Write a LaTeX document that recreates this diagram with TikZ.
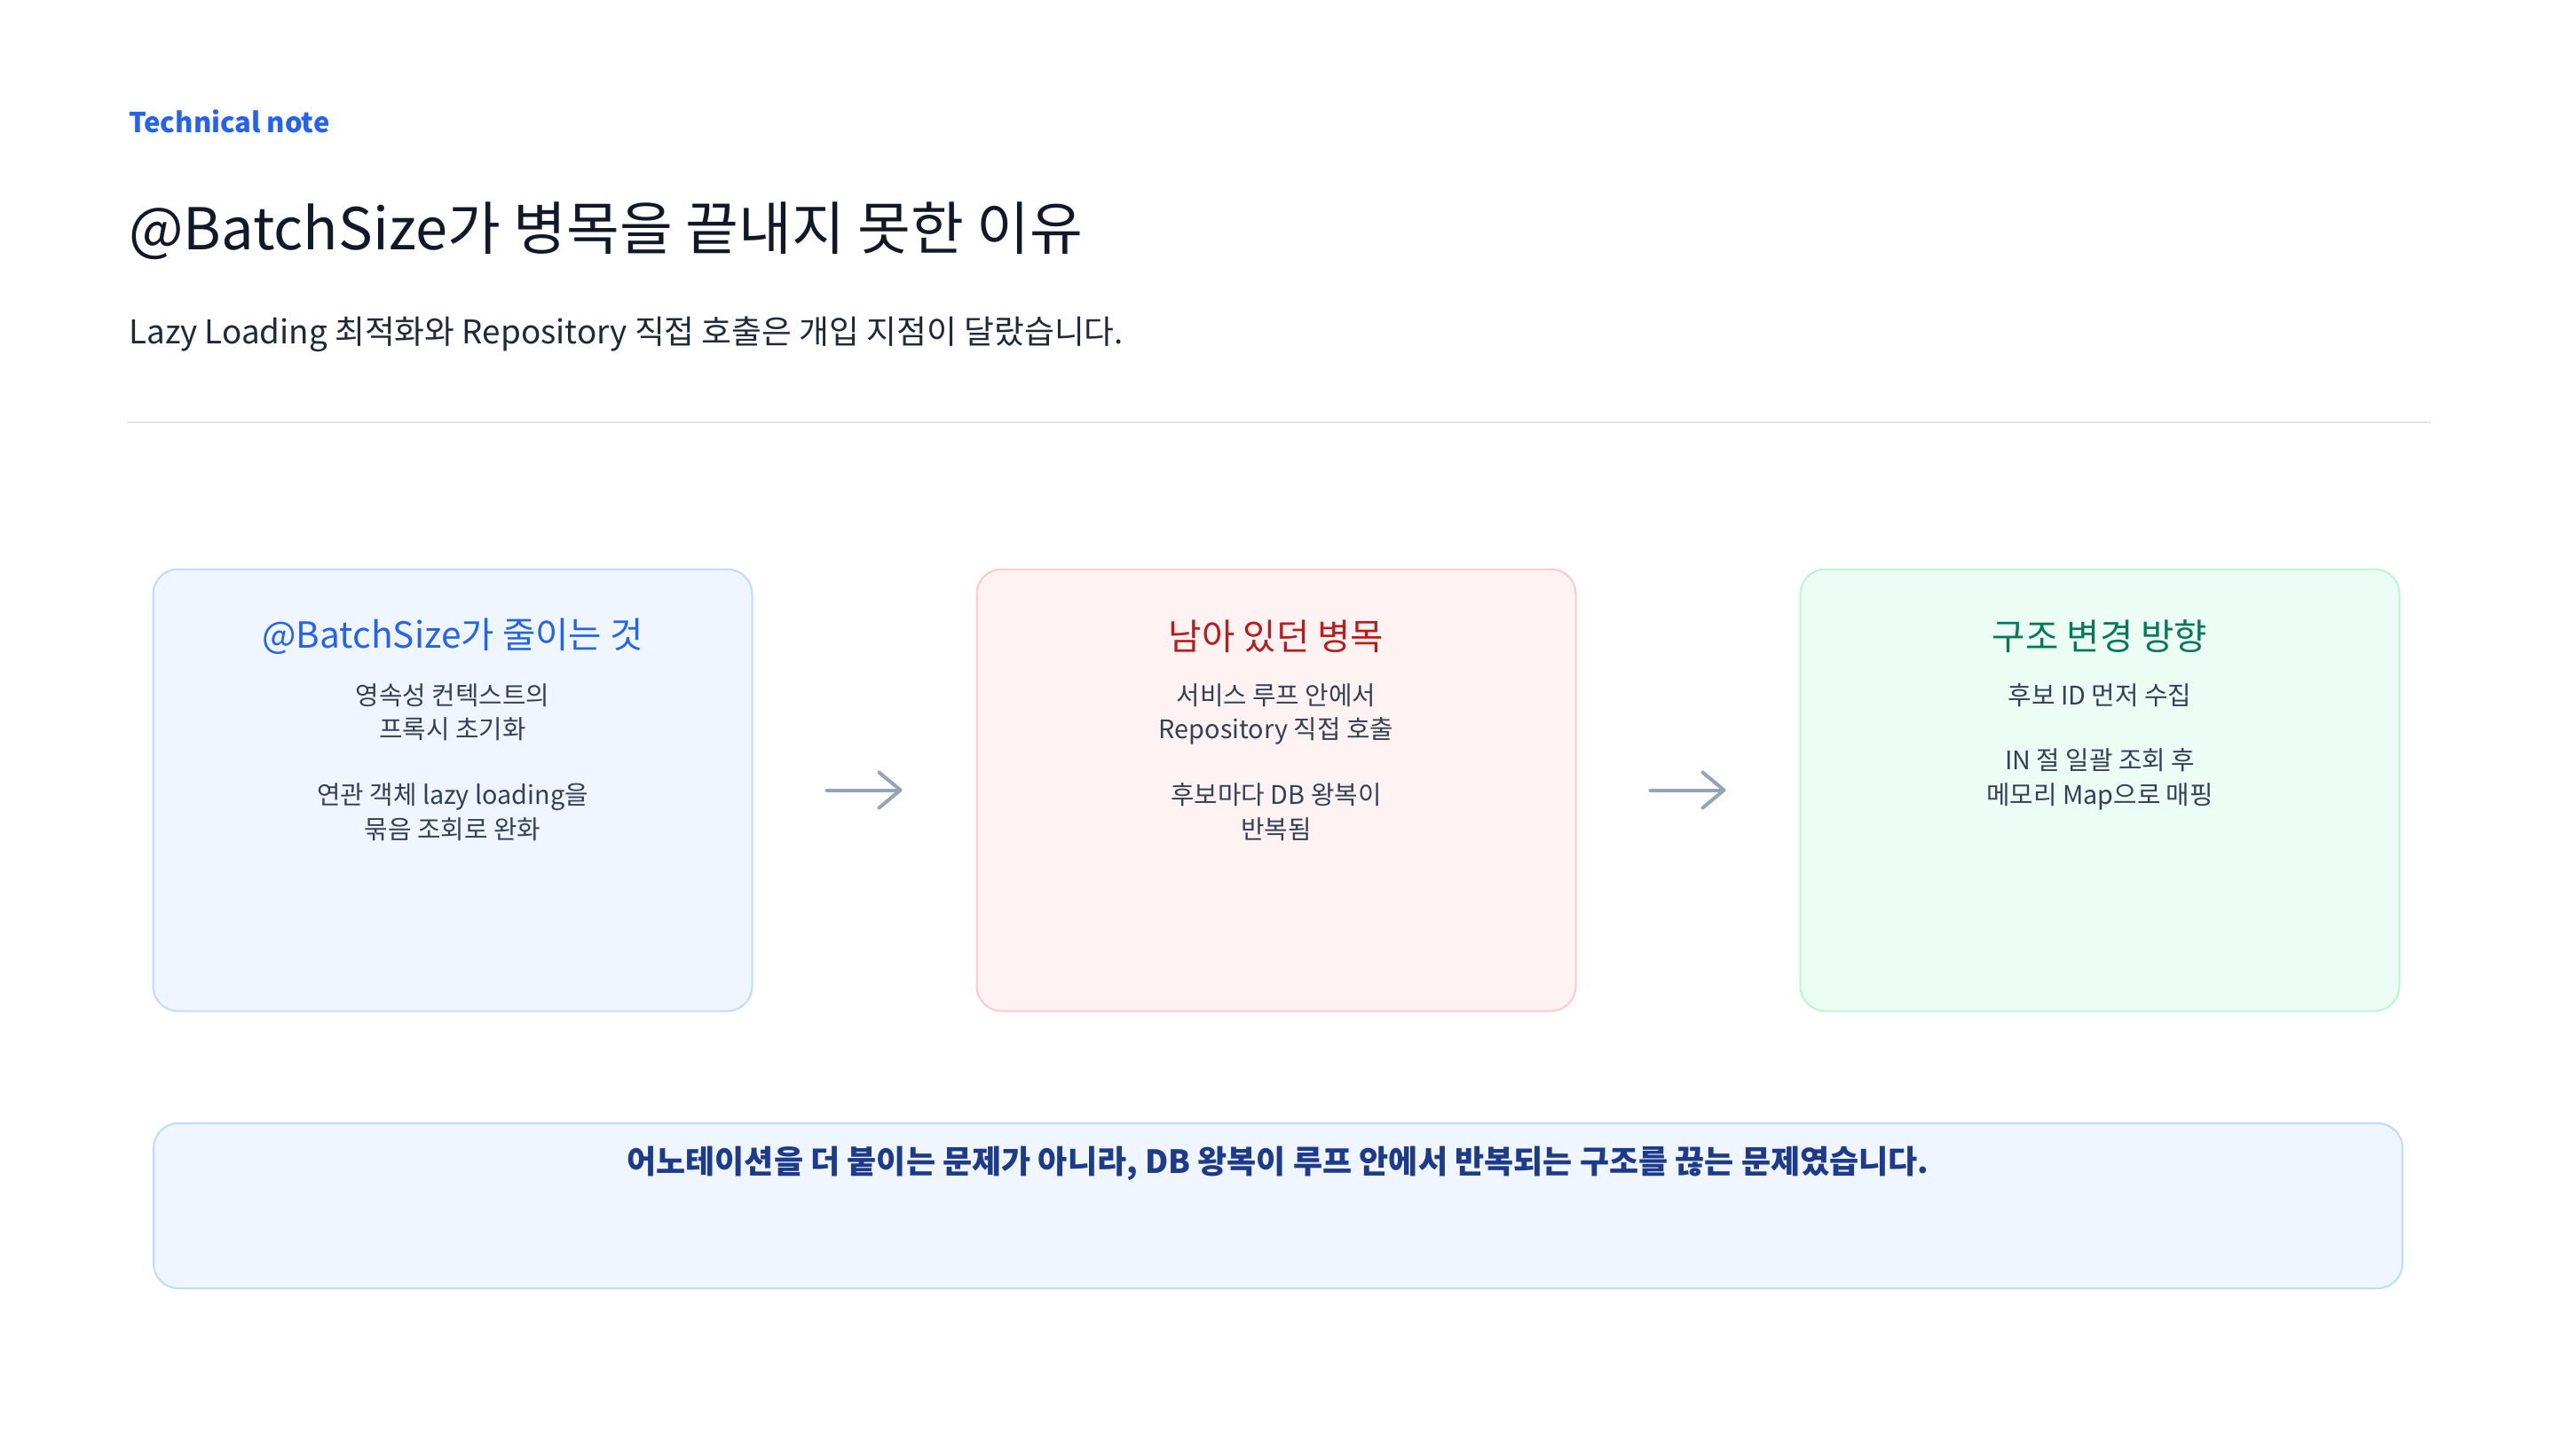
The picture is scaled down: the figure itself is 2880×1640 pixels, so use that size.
\documentclass[tikz,border=0pt]{standalone}
\usepackage{fontspec}
\setmainfont{Noto Sans CJK KR}
\usetikzlibrary{arrows.meta}

\definecolor{accent}{HTML}{2563EB}
\definecolor{ink}{HTML}{111827}
\definecolor{subink}{HTML}{1F2937}
\definecolor{bodyink}{HTML}{334155}
\definecolor{rulegray}{HTML}{E5E7EB}
\definecolor{arrowgray}{HTML}{94A3B8}
\definecolor{blueFill}{HTML}{EFF6FF}
\definecolor{blueLine}{HTML}{BFDBFE}
\definecolor{blueText}{HTML}{2563EB}
\definecolor{redFill}{HTML}{FEF2F2}
\definecolor{redLine}{HTML}{FECACA}
\definecolor{redText}{HTML}{B91C1C}
\definecolor{greenFill}{HTML}{ECFDF5}
\definecolor{greenLine}{HTML}{BBF7D0}
\definecolor{greenText}{HTML}{047857}
\definecolor{noteText}{HTML}{1E3A8A}

\tikzset{
	card/.style={rounded corners=14pt, line width=1pt, minimum width=337.5pt, minimum height=249pt, inner sep=0pt},
	cardtitle/.style={inner sep=0pt, font=\fontsize{20.3}{24}\selectfont},
	cardbody/.style={inner sep=0pt, anchor=north, align=center, text=bodyink, font=\fontsize{14.4}{19.3}\selectfont},
	flow/.style={draw=arrowgray, line width=2pt, line cap=round, -{Straight Barb[length=12pt,width=20pt,round]}, shorten <=41.5pt, shorten >=41.5pt}
}

\begin{document}
\begin{tikzpicture}[x=0.5pt, y=0.5pt]
		\useasboundingbox[fill=white] (0,0) rectangle (2880,-1640);

		% header
		\node[anchor=west, inner sep=0pt, text=accent, font=\fontsize{15.5}{18}\selectfont\bfseries] (kicker) at (145,-137) {Technical note};
		\node[anchor=west, inner sep=0pt, text=ink, font=\fontsize{32.5}{38}\selectfont] (title) at (145,-260) {@BatchSize가 병목을 끝내지 못한 이유};
		\node[anchor=west, inner sep=0pt, text=subink, font=\fontsize{18.4}{22}\selectfont] (subtitle) at (145,-377) {Lazy Loading 최적화와 Repository 직접 호출은 개입 지점이 달랐습니다.};
		\draw[rulegray, line width=1pt] (143,-476) -- (2739,-476);

		% three cards
		\foreach \i/\x/\tone/\ttl/\body in {
			1/510/blue/{@BatchSize가 줄이는 것}/{영속성 컨텍스트의\\프록시 초기화\\[17.5pt]연관 객체 lazy loading을\\묶음 조회로 완화},
			2/1438/red/{남아 있던 병목}/{서비스 루프 안에서\\Repository 직접 호출\\[17.5pt]후보마다 DB 왕복이\\반복됨},
			3/2366/green/{구조 변경 방향}/{후보 ID 먼저 수집\\[17.5pt]IN 절 일괄 조회 후\\메모리 Map으로 매핑}}{
			\node[card, draw=\tone Line, fill=\tone Fill] (b\i) at (\x,-890.5) {};
			\node[cardtitle, text=\tone Text] (t\i) at (\x,-717) {\ttl};
			\node[cardbody] (d\i) at (\x,-770) {\body};
		}

		\foreach \a/\b in {b1/b2, b2/b3}{
			\draw[flow] (\a) -- (\b);
		}

		% takeaway
		\node[rounded corners=14pt, line width=1pt, draw=blueLine, fill=blueFill, minimum width=1267pt, minimum height=93pt] (note) at (1440,-1359) {};
		\node[inner sep=0pt, text=noteText, font=\fontsize{18}{21}\selectfont\bfseries] (notetext) at (1440,-1311) {어노테이션을 더 붙이는 문제가 아니라, DB 왕복이 루프 안에서 반복되는 구조를 끊는 문제였습니다.};
		\end{tikzpicture}
\end{document}
